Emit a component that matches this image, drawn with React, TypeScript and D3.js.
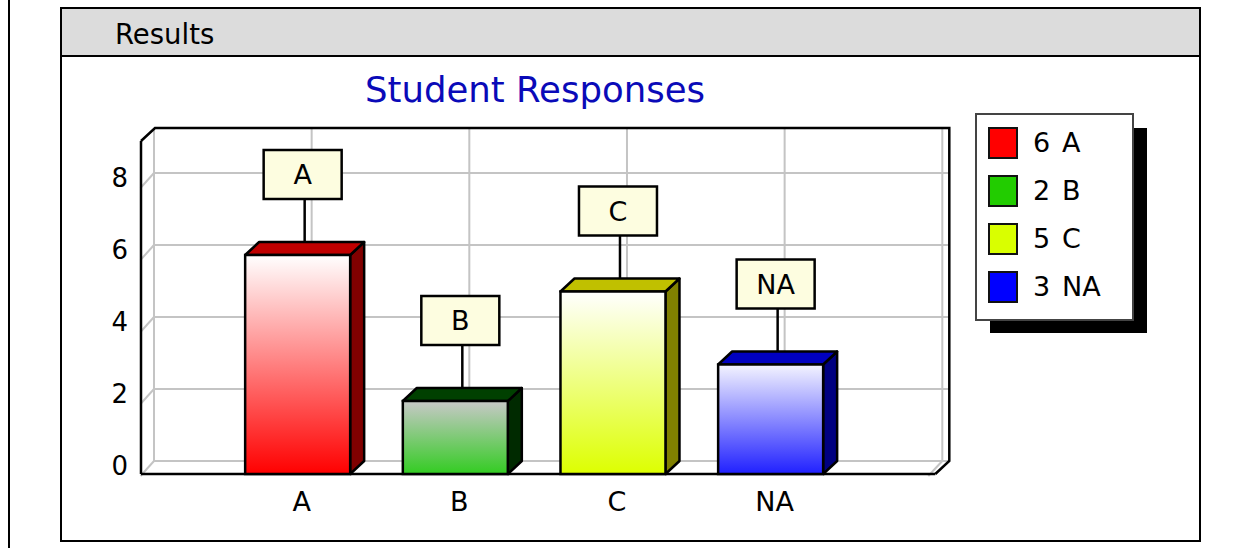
import React from "react";
import * as d3 from "d3";

const categories = ["A", "B", "C", "NA"];
const values = [6, 2, 5, 3];
const yTicks = [0, 2, 4, 6, 8];
const baseColors = ["#ff0000", "#33cc22", "#ddff00", "#2020ff"];
const topGradColors = ["#ffffff", "#c8c8c8", "#ffffff", "#f4f4ff"];
const legendColors = ["#ff0000", "#22cc00", "#d9ff00", "#0000ff"];
const topFaceColors = ["#c00000", "#004000", "#c0c000", "#0000c0"];
const sideFaceColors = ["#800000", "#002a00", "#808000", "#000080"];

const FONT = "'DejaVu Sans', Verdana, sans-serif";

export default function App() {
  const DX = 14;
  const DY = 13;
  const x = d3.scaleLinear().domain([0, 5]).range([140, 928.3]);
  const yBack = d3.scaleLinear().domain([0, 9.25]).range([461, 128]);
  const yFront = (v: number) => yBack(v) + DY;
  // front-plane scale used for the bar faces
  const yBar = d3.scaleLinear().domain([0, 9.25]).range([474, 474 - 9.25 * 36.5]);
  const barW = 105;
  const backLeft = x(0) + DX;
  const backRight = x(5) + DX + 7;
  const frontRight = x(5) + 7;
  const frontBottom = yFront(0);
  const gridColor = "#c4c4c4";

  return (
    <svg
      width={1250}
      height={550}
      style={{ position: "absolute", left: 0, top: 0, background: "#fff" }}
      fontFamily={FONT}
    >
      <defs>
        {categories.map((c, i) => (
          <linearGradient key={c} id={`g${i}`} x1="0" y1="0" x2="0" y2="1">
            <stop offset="0%" stopColor={topGradColors[i]} />
            <stop offset="100%" stopColor={baseColors[i]} />
          </linearGradient>
        ))}
      </defs>
      {/* left page line */}
      <line x1={9} y1={0} x2={9} y2={548} stroke="#000" strokeWidth={2} />
      {/* panel */}
      <rect x={61} y={8} width={1139} height={48} fill="#dcdcdc" />
      <rect x={61} y={8} width={1139} height={533} fill="none" stroke="#000" strokeWidth={2} />
      <line x1={61} y1={56} x2={1200} y2={56} stroke="#000" strokeWidth={2} />
      <text x={115} y={44} fontSize={27.5} fill="#000">Results</text>
      <text x={535} y={102} fontSize={35.5} fill="#0a0ab8" textAnchor="middle">Student Responses</text>

      {/* back wall grid */}
      {yTicks.map((t) => (
        <g key={`yt${t}`}>
          <line x1={backLeft} x2={backRight} y1={yBack(t)} y2={yBack(t)} stroke={gridColor} strokeWidth={2} />
          <line x1={x(0) + 0.5} y1={yFront(t) + 2} x2={backLeft} y2={yBack(t)} stroke={gridColor} strokeWidth={2} />
          <text x={128} y={yFront(t) + 1} fontSize={26} textAnchor="end" fill="#000">{t}</text>
        </g>
      ))}
      {[0, 1, 2, 3, 4, 5].map((i) => (
        <line key={`vx${i}`} x1={x(i) + DX} x2={x(i) + DX} y1={yBack(9.25)} y2={yBack(0)} stroke={gridColor} strokeWidth={2} />
      ))}
      <line x1={x(5) + DX} y1={yBack(0)} x2={x(5)} y2={frontBottom + 2} stroke={gridColor} strokeWidth={2} />

      {/* frame */}
      <polyline
        points={`${x(0) + 1},${yFront(9.25)} ${backLeft + 1},${yBack(9.25)} ${backRight},${yBack(9.25)} ${backRight},${yBack(0)} ${frontRight},${frontBottom}`}
        fill="none"
        stroke="#000"
        strokeWidth={2.5}
      />
      <line x1={x(0) + 1} y1={yFront(9.25)} x2={x(0) + 1} y2={frontBottom} stroke="#000" strokeWidth={2.5} />
      <line x1={x(0) + 1} y1={frontBottom} x2={frontRight} y2={frontBottom} stroke="#000" strokeWidth={2.5} />

      {/* bars */}
      {values.map((v, i) => {
        const c = x(i + 1);
        const l = c - barW / 2;
        const r = c + barW / 2;
        const t = yBar(v);
        const b = frontBottom;
        const boxBottom = t - DY - 43;
        return (
          <g key={`bar${i}`}>
            <polygon
              points={`${r},${t} ${r + DX},${t - DY} ${r + DX},${b - DY} ${r},${b}`}
              fill={sideFaceColors[i]}
              stroke="#000"
              strokeWidth={2.5}
              strokeLinejoin="round"
            />
            <polygon
              points={`${l},${t} ${l + DX},${t - DY} ${r + DX},${t - DY} ${r},${t}`}
              fill={topFaceColors[i]}
              stroke="#000"
              strokeWidth={2.5}
              strokeLinejoin="round"
            />
            <rect x={l} y={t} width={barW} height={b - t} fill={`url(#g${i})`} stroke="#000" strokeWidth={2.5} />
            <line x1={c + 7} x2={c + 7} y1={t - DY} y2={boxBottom} stroke="#000" strokeWidth={2.5} />
            <rect x={c + 5 - 39} y={boxBottom - 49} width={78} height={49} fill="#fdfde0" stroke="#000" strokeWidth={2.5} />
            <text x={c + 5} y={boxBottom - 15} fontSize={27} textAnchor="middle" fill="#000">{categories[i]}</text>
            <text x={c + 4} y={511} fontSize={27} textAnchor="middle" fill="#000">{categories[i]}</text>
          </g>
        );
      })}

      {/* legend */}
      <rect x={990} y={128} width={157} height={205} fill="#000" />
      <rect x={976} y={114} width={157} height={206} fill="#fff" stroke="#444" strokeWidth={2} />
      {categories.map((c, i) => {
        const cy = 143 + i * 48;
        return (
          <g key={`lg${i}`}>
            <rect x={989} y={cy - 15} width={28} height={30} fill={legendColors[i]} stroke="#111" strokeWidth={2} />
            <text x={1033} y={cy + 9} fontSize={27} fill="#000">{values[i]}</text>
            <text x={1062} y={cy + 9} fontSize={27} fill="#000">{c}</text>
          </g>
        );
      })}
    </svg>
  );
}
